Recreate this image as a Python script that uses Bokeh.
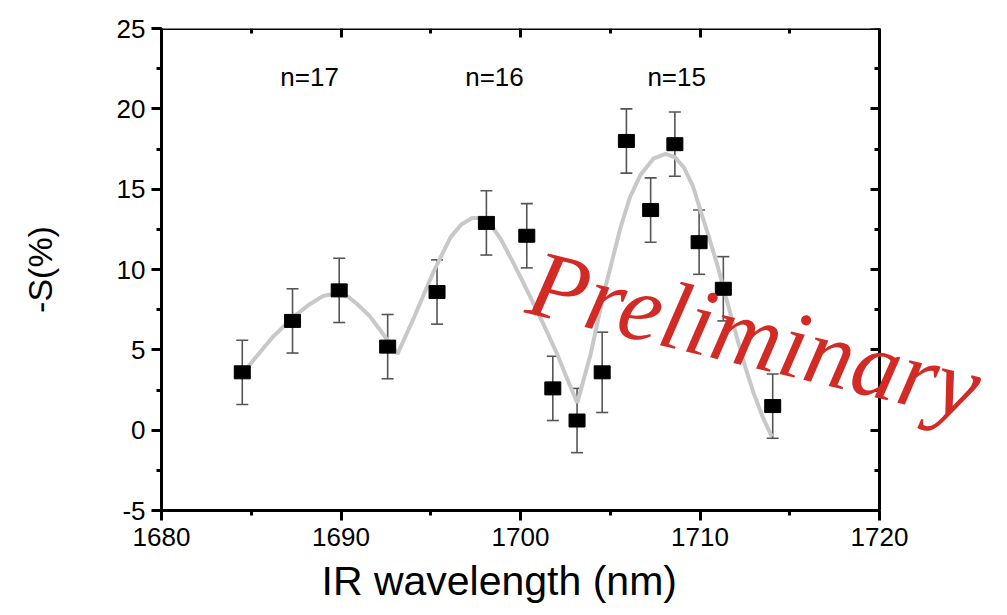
from bokeh.plotting import figure
from bokeh.models import (Range1d, LinearAxis, SingleIntervalTicker, Whisker,
                          ColumnDataSource, Label, TeeHead, Title)
from bokeh.core.properties import value
from bokeh.embed import file_html
from bokeh.resources import INLINE

# measured points
wavelength = [1684.5, 1687.3, 1689.9, 1692.6, 1695.35, 1698.1, 1700.35, 1701.8,
              1703.15, 1704.55, 1705.9, 1707.25, 1708.6, 1709.95, 1711.3, 1714.05]
s_val = [3.6, 6.8, 8.7, 5.2, 8.6, 12.9, 12.1, 2.6, 0.6, 3.6, 18.0, 13.7, 17.8, 11.7, 8.8, 1.5]
s_err = [2.0, 2.0, 2.0, 2.0, 2.0, 2.0, 2.0, 2.0, 2.0, 2.5, 2.0, 2.0, 2.0, 2.0, 2.0, 2.0]

# fit curve
fit_x = [1684.5, 1685.3, 1686.2, 1687.3, 1688.2, 1689.0, 1689.7, 1690.4, 1690.9, 1691.6,
         1692.2, 1693.15, 1694.06, 1695.17, 1696.1, 1696.7, 1697.3, 1697.8, 1698.33, 1698.9,
         1699.44, 1700.1, 1700.74, 1701.4, 1702.04, 1702.6, 1703.16, 1703.9, 1704.64, 1705.57,
         1706.1, 1706.69, 1707.4, 1708.08, 1708.6, 1709.1, 1709.6, 1710.03, 1710.5, 1710.96,
         1711.9, 1712.5, 1713.0, 1713.5, 1714.0]
fit_y = [3.5, 4.6, 5.8, 7.0, 7.8, 8.35, 8.5, 8.3, 7.85, 7.1,
         6.2, 4.75, 7.0, 9.9, 12.0, 12.8, 13.2, 13.2, 12.8, 11.9,
         10.75, 9.3, 7.85, 6.3, 4.74, 3.2, 1.7, 4.7, 8.5, 12.6,
         14.5, 15.9, 16.9, 17.2, 17.0, 16.35, 15.2, 13.66, 12.0, 10.3,
         6.4, 4.0, 2.26, 0.8, -0.4]

# order labels
order_labels = ["n=17", "n=16", "n=15"]
order_x = [1688.25, 1698.55, 1708.7]
order_y = [22.0, 22.0, 22.0]

x_lo, x_hi = 1680, 1720
y_lo, y_hi = -5, 25
x_ticks_interval = 10
y_ticks_interval = 5

FONT = "Liberation Sans"

W, H = 1007, 615
LEFT, RIGHT, TOP, BOTTOM = 161, 20, 28, 105
AXIS_PX = 718  # pixel length of the 1680..1720 axis
# the frame extends past 1720 so the watermark is not clipped; the axes stop at 1720
x_view_hi = x_lo + (x_hi - x_lo) * (W - LEFT - RIGHT) / AXIS_PX

p = figure(width=W, height=H,
           x_range=Range1d(x_lo, x_view_hi), y_range=Range1d(y_lo, y_hi),
           output_backend="svg", toolbar_location=None,
           min_border_left=LEFT, min_border_right=RIGHT,
           min_border_top=TOP, min_border_bottom=BOTTOM,
           y_axis_label="-S(%)")
p.outline_line_color = None
p.xgrid.visible = False
p.ygrid.visible = False
p.background_fill_color = "white"
p.border_fill_color = "white"

p.xaxis.ticker = SingleIntervalTicker(interval=x_ticks_interval, num_minor_ticks=2)
p.yaxis.ticker = SingleIntervalTicker(interval=y_ticks_interval, num_minor_ticks=2)
p.xaxis.bounds = (x_lo, x_hi)
p.yaxis.major_label_overrides = {-5: "-5"}

for ax in (p.xaxis[0], p.yaxis[0]):
    ax.axis_line_width = 3
    ax.major_tick_line_width = 3
    ax.minor_tick_line_width = 3
    ax.major_tick_in = 0
    ax.minor_tick_in = 0
    ax.major_tick_out = 10
    ax.minor_tick_out = 5
    ax.major_label_text_font = FONT
    ax.major_label_text_font_size = "26px"
    ax.major_label_text_color = "black"
    ax.axis_label_text_font = FONT
    ax.axis_label_text_font_style = "normal"
    ax.axis_label_text_color = "black"

p.xaxis.major_label_standoff = 7
p.yaxis.axis_label_text_font_size = "34px"
p.yaxis.axis_label_standoff = 55
p.yaxis.major_label_standoff = 6

# x-axis title (placed as a title below so that it is centred like the original)
xt = Title(text="IR wavelength (nm)", align="left", offset=160,
           text_font=FONT, text_font_size="41px", text_font_style="normal",
           text_color="black", standoff=14)
p.add_layout(xt, "below")

# mirror axes (top and right) with inward ticks
top = LinearAxis(ticker=SingleIntervalTicker(interval=x_ticks_interval, num_minor_ticks=2),
                 fixed_location=y_hi, bounds=(x_lo, x_hi))
right = LinearAxis(ticker=SingleIntervalTicker(interval=y_ticks_interval, num_minor_ticks=2),
                   fixed_location=x_hi)
for ax in (top, right):
    ax.axis_line_width = 3
    ax.major_tick_line_width = 3
    ax.minor_tick_line_width = 3
    ax.major_tick_in = 9
    ax.minor_tick_in = 5
    ax.major_tick_out = 0
    ax.minor_tick_out = 0
    ax.major_label_text_color = None
p.add_layout(top, "above")
p.add_layout(right, "right")

# fit curve
p.line(fit_x, fit_y, line_color="#c8c8c8", line_width=4)

# error bars
src = ColumnDataSource(dict(
    x=wavelength, y=s_val,
    upper=[v + e for v, e in zip(s_val, s_err)],
    lower=[v - e for v, e in zip(s_val, s_err)],
))
whisk = Whisker(base="x", upper="upper", lower="lower", source=src,
                line_color="#555555", line_width=1.6,
                upper_head=TeeHead(size=12, line_color="#555555", line_width=1.6),
                lower_head=TeeHead(size=12, line_color="#555555", line_width=1.6))
p.add_layout(whisk)

# data markers
p.rect(x="x", y="y", width=16, height=13, width_units="screen", height_units="screen",
       fill_color="black", line_color="black", source=src)

# order labels
p.text(x=order_x, y=order_y, text=order_labels, text_align="center",
       text_baseline="alphabetic", text_font=value(FONT), text_font_size="26px",
       text_color="black")

# watermark
wm = Label(x=1700.6, y=9.3, text="Preliminary", angle=-0.237,
           text_font="Liberation Serif", text_font_style="italic",
           text_font_size="96px", text_color="#d22b25",
           text_align="left", text_baseline="alphabetic")
p.add_layout(wm)

open("out.html", "w").write(file_html(p, INLINE))
